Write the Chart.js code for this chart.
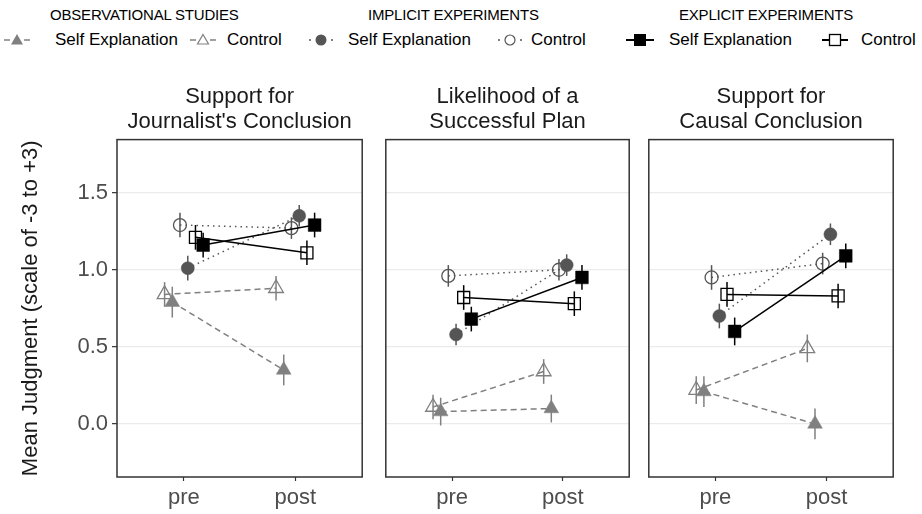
<!DOCTYPE html>
<html>
<head>
<meta charset="utf-8">
<script src="https://cdn.jsdelivr.net/npm/chart.js@4.4.0/dist/chart.umd.min.js"></script>
<style>
body { margin:0; background:#fff; width:922px; height:514px; position:relative; overflow:hidden; font-family:"Liberation Sans", Arial, sans-serif; }
canvas.panel { position:absolute; top:60px; }
.hd { position:absolute; top:6px; font-size:15px; letter-spacing:-0.2px; color:#000; white-space:nowrap; }
.it { position:absolute; top:29px; font-size:17px; color:#000; white-space:nowrap; line-height:22px; }
.sym { position:absolute; top:31px; }
</style>
</head>
<body>
<!-- legend -->
<div class="hd" style="left:50px">OBSERVATIONAL STUDIES</div>
<div class="hd" style="left:368px">IMPLICIT EXPERIMENTS</div>
<div class="hd" style="left:679px">EXPLICIT EXPERIMENTS</div>

<svg class="sym" style="left:3px" width="28" height="18"><line x1="1" y1="9" x2="7" y2="9" stroke="#808080" stroke-width="1.5"/><line x1="21" y1="9" x2="27" y2="9" stroke="#808080" stroke-width="1.5"/><polygon points="14,3 20,13.5 8,13.5" fill="#808080"/></svg>
<div class="it" style="left:55px">Self Explanation</div>
<svg class="sym" style="left:189px" width="28" height="18"><line x1="1" y1="9" x2="7" y2="9" stroke="#808080" stroke-width="1.5"/><line x1="21" y1="9" x2="27" y2="9" stroke="#808080" stroke-width="1.5"/><polygon points="14,3.5 19.5,13 8.5,13" fill="none" stroke="#808080" stroke-width="1.2"/></svg>
<div class="it" style="left:227px">Control</div>

<svg class="sym" style="left:307px" width="28" height="18"><circle cx="3" cy="9" r="1" fill="#555"/><circle cx="25" cy="9" r="1" fill="#555"/><circle cx="14" cy="9" r="5.5" fill="#555"/></svg>
<div class="it" style="left:348px">Self Explanation</div>
<svg class="sym" style="left:496px" width="28" height="18"><circle cx="3" cy="9" r="1" fill="#555"/><circle cx="25" cy="9" r="1" fill="#555"/><circle cx="14" cy="9" r="5" fill="none" stroke="#555" stroke-width="1.2"/></svg>
<div class="it" style="left:531px">Control</div>

<svg class="sym" style="left:626px" width="28" height="18"><line x1="0" y1="9" x2="28" y2="9" stroke="#000" stroke-width="2"/><rect x="8" y="3" width="12" height="12" fill="#000"/></svg>
<div class="it" style="left:669px">Self Explanation</div>
<svg class="sym" style="left:821px" width="28" height="18"><line x1="1" y1="9" x2="27" y2="9" stroke="#000" stroke-width="2"/><rect x="8.5" y="3.5" width="11" height="11" fill="#fff" stroke="#000" stroke-width="1.3"/></svg>
<div class="it" style="left:861px">Control</div>

<canvas id="p0" class="panel" width="372" height="454" style="left:0px"></canvas>
<canvas id="p1" class="panel" width="263" height="454" style="left:376px"></canvas>
<canvas id="p2" class="panel" width="264" height="454" style="left:639px"></canvas>

<script>
// data (one pair per panel: [pre, post])
var timepoints = ['pre', 'post'];
var panelTitles = [['Support for', "Journalist's Conclusion"], ['Likelihood of a', 'Successful Plan'], ['Support for', 'Causal Conclusion']];
var yTicks = [0, 0.5, 1.0, 1.5];
var yTitle = 'Mean Judgment (scale of -3 to +3)';

var seriesNames = ['Observational Control', 'Observational Self Explanation', 'Implicit Control', 'Implicit Self Explanation', 'Explicit Control', 'Explicit Self Explanation'];

var obsCtrlMean = [[0.84, 0.88], [0.11, 0.34], [0.22, 0.49]];
var obsSelfMean = [[0.79, 0.35], [0.08, 0.10], [0.21, 0.00]];
var impCtrlMean = [[1.29, 1.27], [0.96, 1.00], [0.95, 1.04]];
var impSelfMean = [[1.01, 1.35], [0.58, 1.03], [0.70, 1.23]];
var expCtrlMean = [[1.21, 1.11], [0.82, 0.78], [0.84, 0.83]];
var expSelfMean = [[1.16, 1.29], [0.68, 0.95], [0.60, 1.09]];

// error bar half widths
var obsCtrlErr = [[0.08, 0.08], [0.08, 0.08], [0.09, 0.09]];
var obsSelfErr = [[0.10, 0.10], [0.09, 0.09], [0.10, 0.10]];
var impCtrlErr = [[0.08, 0.07], [0.07, 0.07], [0.08, 0.07]];
var impSelfErr = [[0.08, 0.07], [0.07, 0.07], [0.08, 0.07]];
var expCtrlErr = [[0.08, 0.08], [0.08, 0.08], [0.08, 0.08]];
var expSelfErr = [[0.08, 0.08], [0.08, 0.08], [0.09, 0.08]];

var allMeans = [obsCtrlMean, obsSelfMean, impCtrlMean, impSelfMean, expCtrlMean, expSelfMean];
var allErrs = [obsCtrlErr, obsSelfErr, impCtrlErr, impSelfErr, expCtrlErr, expSelfErr];

// styling
var dodge = [-0.173, -0.104, -0.035, 0.035, 0.104, 0.173];
var colors = ['#808080', '#808080', '#555555', '#555555', '#000000', '#000000'];
var markers = ['triangle', 'triangle', 'circle', 'circle', 'rect', 'rect'];
var radii = [8.5, 8.5, 6.5, 6.5, 8.5, 9];
var filled = [false, true, false, true, false, true];
var dashes = [[6, 4], [6, 4], [1.5, 4], [1.5, 4], [], []];

Chart.defaults.font.family = '"Liberation Sans", Arial, sans-serif';

var errorBars = {
  id: 'errorBars',
  beforeDatasetsDraw: function(chart) {
    var ctx = chart.ctx, xs = chart.scales.x, ys = chart.scales.y;
    chart.data.datasets.forEach(function(ds) {
      ctx.save();
      ctx.strokeStyle = ds.borderColor;
      ctx.lineWidth = 1.5;
      ds.data.forEach(function(pt, j) {
        var px = xs.getPixelForValue(pt.x);
        ctx.beginPath();
        ctx.moveTo(px, ys.getPixelForValue(pt.y - ds.err[j]));
        ctx.lineTo(px, ys.getPixelForValue(pt.y + ds.err[j]));
        ctx.stroke();
      });
      ctx.restore();
    });
  }
};

var panelBorder = {
  id: 'panelBorder',
  afterDraw: function(chart) {
    var a = chart.chartArea, ctx = chart.ctx;
    ctx.save();
    ctx.strokeStyle = '#333';
    ctx.lineWidth = 1.5;
    ctx.strokeRect(a.left, a.top, a.right - a.left, a.bottom - a.top);
    ctx.restore();
  }
};

function makePanel(p) {
  var showY = p === 0;
  var datasets = allMeans.map(function(m, k) {
    return {
      label: seriesNames[k],
      data: timepoints.map(function(t, j) { return {x: j + 1 + dodge[k], y: m[p][j]}; }),
      err: allErrs[k][p],
      showLine: true,
      borderColor: colors[k],
      borderWidth: 1.5,
      borderDash: dashes[k],
      pointStyle: markers[k],
      pointRadius: radii[k],
      pointBorderColor: colors[k],
      pointBackgroundColor: filled[k] ? colors[k] : 'rgba(0,0,0,0)',
      pointBorderWidth: filled[k] ? 0.5 : 1.3,
      order: 6 - k
    };
  });
  new Chart(document.getElementById('p' + p), {
    type: 'scatter',
    data: { datasets: datasets },
    options: {
      responsive: false,
      animation: false,
      devicePixelRatio: 1,
      layout: { padding: { left: showY ? 0 : 5, right: showY ? 1 : 5, top: 0, bottom: 0 } },
      plugins: {
        legend: { display: false },
        tooltip: { enabled: false },
        title: {
          display: true,
          text: panelTitles[p],
          fullSize: false,
          color: '#1a1a1a',
          font: { size: 22, weight: 'normal', lineHeight: 1.15 },
          padding: { top: 24, bottom: 5 }
        }
      },
      scales: {
        x: {
          type: 'linear',
          min: 0.4,
          max: 2.6,
          afterBuildTicks: function(s) { s.ticks = timepoints.map(function(t, j) { return {value: j + 1}; }); },
          afterFit: function(s) { s.height = 37; },
          ticks: {
            callback: function(v, i) { return timepoints[i]; },
            font: { size: 22 },
            color: '#4d4d4d',
            padding: 4,
            maxRotation: 0,
            autoSkip: false
          },
          grid: { drawOnChartArea: false, drawTicks: true, tickLength: 4, tickColor: '#333', tickWidth: 1.2 },
          border: { display: false }
        },
        y: {
          min: -0.344,
          max: 1.844,
          afterBuildTicks: function(s) { s.ticks = yTicks.map(function(v) { return {value: v}; }); },
          afterFit: function(s) { s.width = showY ? 117 : 0; },
          ticks: {
            display: showY,
            callback: function(v) { return v.toFixed(1); },
            font: { size: 22 },
            color: '#4d4d4d',
            padding: 4
          },
          grid: { color: '#ebebeb', lineWidth: 1.3, drawTicks: showY, tickLength: 5, tickColor: '#333', tickWidth: 1.2 },
          border: { display: false },
          title: {
            display: showY,
            text: yTitle,
            color: '#1a1a1a',
            font: { size: 22 },
            padding: { top: 18, bottom: 0 }
          }
        }
      }
    },
    plugins: [errorBars, panelBorder]
  });
}

[0, 1, 2].forEach(makePanel);
</script>
</body>
</html>
